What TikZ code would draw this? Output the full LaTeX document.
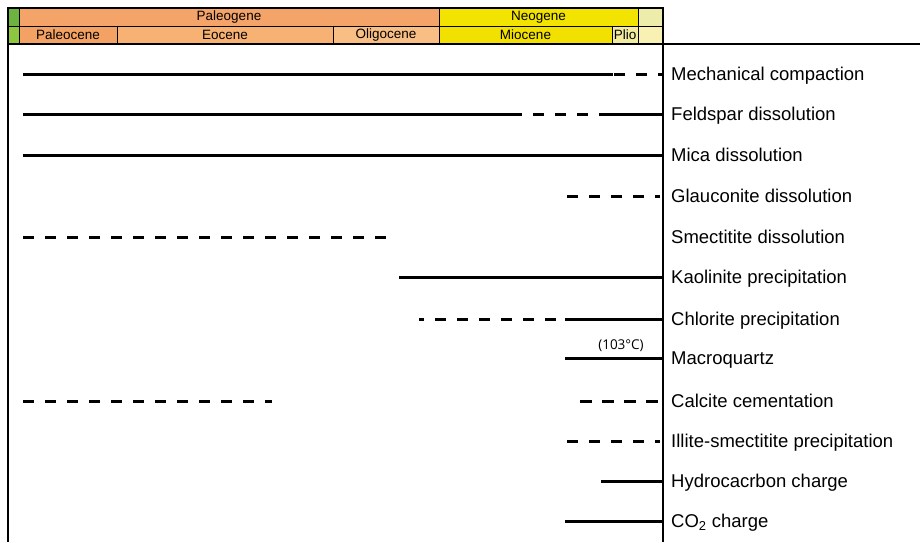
\documentclass[tikz,border=0pt]{standalone}
\usepackage{fontspec}
\setmainfont{Liberation Sans}
\newfontfamily\noteFont{Open Sans}
\usetikzlibrary{positioning}
\definecolor{kreta1}{HTML}{6DB33F}
\definecolor{kreta2}{HTML}{8DC63F}
\definecolor{paleogene}{HTML}{F4A469}
\definecolor{paleocene}{HTML}{F4A263}
\definecolor{eocene}{HTML}{F7B173}
\definecolor{oligocene}{HTML}{F9BE83}
\definecolor{neogene}{HTML}{F2E400}
\definecolor{miocene}{HTML}{F2E100}
\definecolor{pliocene}{HTML}{F3EBA0}
\definecolor{quat1}{HTML}{EEECAA}
\definecolor{quat2}{HTML}{F9F0B3}

\begin{document}
\begin{tikzpicture}[x=1pt,y=-1pt]
\tikzstyle{epoch}=[draw, line width=0.8pt, inner sep=0pt, outer sep=0pt,
  minimum height=18pt, anchor=north west, font=\fontsize{13.5}{14}\selectfont]
\tikzstyle{stage}=[anchor=west, inner sep=0pt, text height=13.2pt,
  text depth=0pt, font=\fontsize{18.5}{20}\selectfont]
\tikzstyle{process}=[line width=3pt]
\tikzstyle{uncertain}=[line width=3pt, dash pattern=on 11pt off 11pt]
	\useasboundingbox (0,0) rectangle (920,542);

	% time scale
	\node [epoch, fill=kreta1, minimum width=11pt] (K1) at (8,8) {};
	\node [epoch, fill=paleogene, minimum width=420pt, right=0pt of K1] (Pg)
	{Paleogene};
	\node [epoch, fill=neogene, minimum width=199pt, right=0pt of Pg] (Ng)
	{Neogene};
	\node [epoch, fill=quat1, minimum width=25pt, right=0pt of Ng] (Q1) {};
	\node [epoch, fill=kreta2, minimum width=11pt, below=0pt of K1] (K2) {};
	\node [epoch, fill=paleocene, minimum width=98pt, right=0pt of K2] (Pc)
	{Paleocene};
	\node [epoch, fill=eocene, minimum width=216pt, right=0pt of Pc] (Eo)
	{Eocene};
	\node [epoch, fill=oligocene, minimum width=106pt, right=0pt of Eo] (Ol)
	{Oligocene};
	\node [epoch, fill=miocene, minimum width=173pt, right=0pt of Ol] (Mi)
	{Miocene};
	\node [epoch, fill=pliocene, minimum width=26pt, right=0pt of Mi] (Pl)
	{Plio};
	\node [epoch, fill=quat2, minimum width=25pt, right=0pt of Pl] (Q2) {};
	\draw [line width=2pt] (K1.north west) rectangle (Q2.south east);

	% frame
	\coordinate (axis) at (663,0);
	\draw [line width=2pt] (K2.south west) -- (8,542);
	\draw [line width=2pt] (Q1.north east) -- (663,542);
	\draw [line width=1.5pt] (Q2.south east) -- (920,44);

	% processes
	\node [stage] (mech) at (671,74) {Mechanical compaction};
	\node [stage] (feld) at (671,114) {Feldspar dissolution};
	\node [stage] (mica) at (671,155) {Mica dissolution};
	\node [stage] (glau) at (671,196) {Glauconite dissolution};
	\node [stage] (smec) at (671,237) {Smectitite dissolution};
	\node [stage] (kaol) at (671,277) {Kaolinite precipitation};
	\node [stage] (chlo) at (671,319) {Chlorite precipitation};
	\node [stage] (quar) at (671,358) {Macroquartz};
	\node [stage] (calc) at (671,401) {Calcite cementation};
	\node [stage] (illi) at (671,441) {Illite-smectitite precipitation};
	\node [stage] (hydr) at (671,481) {Hydrocacrbon charge};
	\node [stage] (coco) at (671,521) {CO\textsubscript{2} charge};

	% timing bars
	\draw [process] (23,74) -- (613,74);
	\draw [uncertain, dash phase=6pt] (axis |- mech) -- (613,74);
	\draw [process] (23,114) -- (522,114);
	\draw [uncertain, dash phase=11pt] (522,114) -- (601,114);
	\draw [process] (601,114) -- (axis |- feld);
	\draw [process] (23,155) -- (axis |- mica);
	\draw [uncertain, dash phase=6pt] (660,196) -- (565,196);
	\draw [uncertain] (23,237) -- (387,237);
	\draw [process] (399,277) -- (axis |- kaol);
	\draw [uncertain, dash phase=6pt] (419,319) -- (565,319);
	\draw [process] (565,319) -- (axis |- chlo);
	\draw [process] (565,358) -- (axis |- quar);
	\node [font=\noteFont\fontsize{13.5}{14}\selectfont] (temp) at (621,346)
	{(103°C)};
	\draw [uncertain] (23,401) -- (272,401);
	\draw [uncertain, dash pattern=on 12pt off 10pt] (580,401) -- (658,401);
	\draw [uncertain, dash phase=6pt] (660,441) -- (563,441);
	\draw [process] (601,481) -- (axis |- hydr);
	\draw [process] (565,521) -- (axis |- coco);
\end{tikzpicture}
\end{document}
